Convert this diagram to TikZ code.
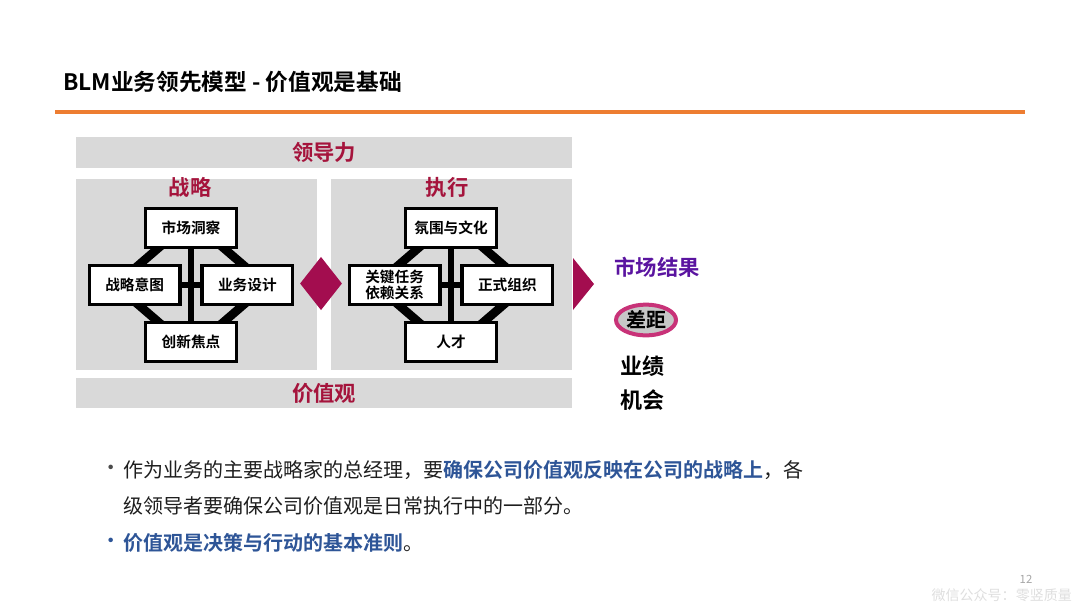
\documentclass[tikz,border=0pt]{standalone}
\usepackage{fontspec}
\setmainfont{Noto Sans CJK SC}[BoldFont={Noto Sans CJK SC Bold}]
\usetikzlibrary{positioning,shapes.geometric,backgrounds}
\definecolor{crim}{RGB}{163,13,79}
\definecolor{redtxt}{RGB}{165,20,60}
\definecolor{pinkrim}{RGB}{200,50,120}
\definecolor{panelgray}{RGB}{217,217,217}
\definecolor{bluetxt}{RGB}{46,85,151}
\definecolor{purp}{RGB}{90,20,160}
\definecolor{orng}{RGB}{237,125,49}
\definecolor{bodytxt}{RGB}{30,30,30}
\tikzset{
	blk/.style={draw, line width=2.6pt, fill=white, minimum width=68pt, minimum height=29pt, inner sep=1pt, font=\bfseries\fontsize{11}{13}\selectfont},
	link/.style={line width=4.5pt, shorten <=-5pt, shorten >=-5pt},
	diag/.style={line width=6.5pt, shorten <=-5pt, shorten >=-5pt},
	panel/.style={fill=panelgray, inner sep=0pt},
	head/.style={text=redtxt, font=\bfseries\fontsize{16}{18}\selectfont},
	para/.style={anchor=west, inner sep=0pt, text=bodytxt, font=\fontsize{15}{18}\selectfont},
	bigword/.style={font=\bfseries\fontsize{16.5}{18}\selectfont}
}
\begin{document}
\begin{tikzpicture}[x=0.75pt, y=-0.75pt, node distance=27pt and 7pt]
	\useasboundingbox (0,0) rectangle (1080,608);
	\node (title) [anchor=west, inner sep=0pt, font=\bfseries\fontsize{17}{19}\selectfont] at (63,82) {BLM业务领先模型 - 价值观是基础};
	\coordinate (ruleL) at (55,112);
	\coordinate (ruleR) at (1025,112);
	\draw[orng, line width=2.4pt] (ruleL) -- (ruleR);
	% gray panels
	\begin{scope}[on background layer]
	\node (lead) [panel, minimum width=372pt, minimum height=23.25pt] at (324,152.5) {};
	\node (stratP) [panel, minimum width=180.75pt, minimum height=143.25pt] at (196.5,274.5) {};
	\node (execP) [panel, minimum width=180.75pt, minimum height=143.25pt] at (451.5,274.5) {};
	\node (vals) [panel, minimum width=372pt, minimum height=22.5pt] at (324,393) {};
	\end{scope}
	\node (leadT) [head] at (lead) {领导力};
	\node (valsT) [head] at (vals) {价值观};
	\node (stratT) [head] at (190,187) {战略};
	\node (execT) [head] at (447,187) {执行};
	% strategy
	\coordinate (hubS) at (191,285);
	\node (mkt) [blk, above=of hubS] {市场洞察};
	\node (intent) [blk, left=of hubS] {战略意图};
	\node (design) [blk, right=of hubS] {业务设计};
	\node (innov) [blk, below=of hubS] {创新焦点};
	% execution
	\coordinate (hubE) at (451,285);
	\node (clim) [blk, above=of hubE] {氛围与文化};
	\node (task) [blk, left=of hubE, align=left, font=\bfseries\fontsize{11}{12.5}\selectfont] {关键任务\\依赖关系};
	\node (org) [blk, right=of hubE] {正式组织};
	\node (tal) [blk, below=of hubE] {人才};
	\begin{scope}[on background layer]
	\draw[link] (mkt) -- (innov);
	\draw[link] (intent) -- (design);
	\draw[diag] ([xshift=10pt]mkt.south west) -- ([xshift=4pt]intent.north);
	\draw[diag] ([xshift=-10pt]mkt.south east) -- ([xshift=-4pt]design.north);
	\draw[diag] ([xshift=10pt]innov.north west) -- ([xshift=4pt]intent.south);
	\draw[diag] ([xshift=-10pt]innov.north east) -- ([xshift=-4pt]design.south);
	\draw[link] (clim) -- (tal);
	\draw[link] (task) -- (org);
	\draw[diag] ([xshift=10pt]clim.south west) -- ([xshift=4pt]task.north);
	\draw[diag] ([xshift=-10pt]clim.south east) -- ([xshift=-4pt]org.north);
	\draw[diag] ([xshift=10pt]tal.north west) -- ([xshift=4pt]task.south);
	\draw[diag] ([xshift=-10pt]tal.north east) -- ([xshift=-4pt]org.south);
	\end{scope}
	\node (gate) [diamond, fill=crim, minimum width=31.5pt, minimum height=40pt, inner sep=0pt] at (321,283.5) {};
	\fill[crim] (573,258) -- (594,284) -- (573,310) -- cycle;
	% results
	\node (res) [text=purp, font=\bfseries\fontsize{16}{18}\selectfont] at (657,267) {市场结果};
	\node (gap) [ellipse, draw=pinkrim, line width=3pt, fill=black!22, minimum width=45pt, minimum height=23pt, inner sep=0pt, font=\bfseries\fontsize{15}{17}\selectfont] at (646,320) {差距};
	\node (perf) [bigword] at (642,366) {业绩};
	\node (opp) [bigword] at (642,400) {机会};
	% bullets
	\node (dot1) [text=bodytxt!80, font=\fontsize{16}{16}\selectfont] at (111,470) {•};
	\node (b1) [para] at (123,470) {作为业务的主要战略家的总经理，要\textcolor{bluetxt}{\bfseries 确保公司价值观反映在公司的战略上}，各};
	\node (b2) [para] at (123,506) {级领导者要确保公司价值观是日常执行中的一部分。};
	\node (dot3) [text=bluetxt, font=\fontsize{16}{16}\selectfont] at (111,543) {•};
	\node (b3) [para, text=bluetxt, font=\bfseries\fontsize{15}{18}\selectfont] at (123,543) {价值观是决策与行动的基本准则\textcolor{bodytxt}{\mdseries 。}};
	\node (pgno) [text=black!35, font=\fontsize{8.5}{10}\selectfont] at (1026,579) {12};
	\node (wm) [anchor=east, inner sep=0pt, text=black!13, font=\fontsize{10.5}{12}\selectfont] at (1072,595) {微信公众号：零竖质量};
\end{tikzpicture}
\end{document}
